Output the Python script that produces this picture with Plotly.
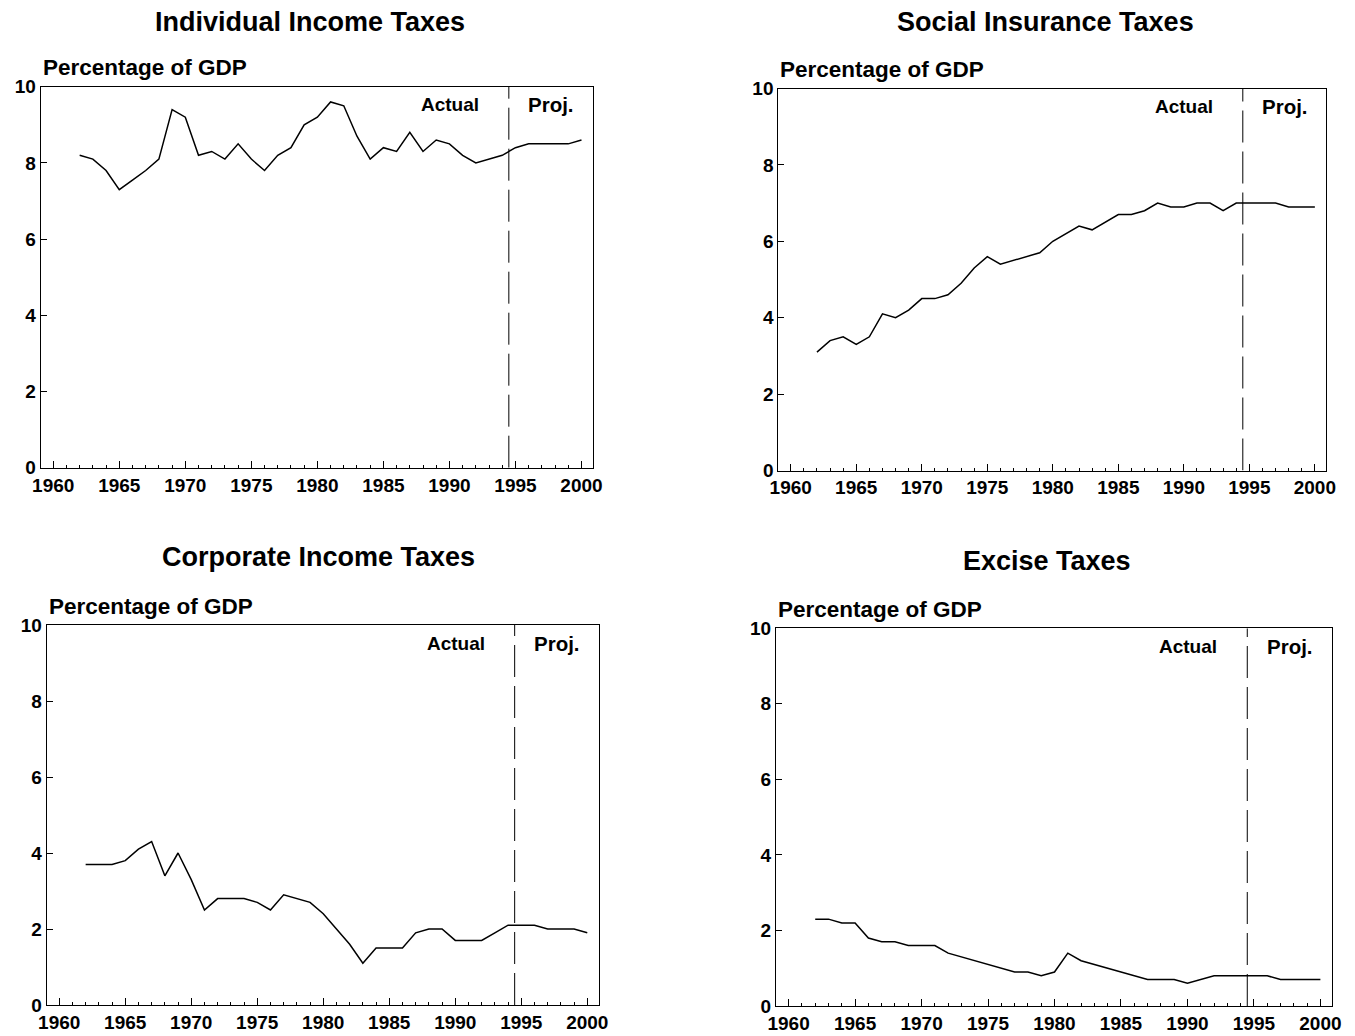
import plotly.graph_objects as go

years = list(range(1962, 2001))

individual = [8.2, 8.1, 7.8, 7.3, 7.55, 7.8, 8.1, 9.4, 9.2, 8.2, 8.3, 8.1, 8.5, 8.1, 7.8,
              8.2, 8.4, 9.0, 9.2, 9.6, 9.5, 8.7, 8.1, 8.4, 8.3, 8.8, 8.3, 8.6, 8.5, 8.2,
              8.0, 8.1, 8.2, 8.4, 8.5, 8.5, 8.5, 8.5, 8.6]
social = [3.1, 3.4, 3.5, 3.3, 3.5, 4.1, 4.0, 4.2, 4.5, 4.5, 4.6, 4.9, 5.3, 5.6, 5.4,
          5.5, 5.6, 5.7, 6.0, 6.2, 6.4, 6.3, 6.5, 6.7, 6.7, 6.8, 7.0, 6.9, 6.9, 7.0,
          7.0, 6.8, 7.0, 7.0, 7.0, 7.0, 6.9, 6.9, 6.9]
corporate = [3.7, 3.7, 3.7, 3.8, 4.1, 4.3, 3.4, 4.0, 3.3, 2.5, 2.8, 2.8, 2.8, 2.7, 2.5,
             2.9, 2.8, 2.7, 2.4, 2.0, 1.6, 1.1, 1.5, 1.5, 1.5, 1.9, 2.0, 2.0, 1.7, 1.7,
             1.7, 1.9, 2.1, 2.1, 2.1, 2.0, 2.0, 2.0, 1.9]
excise = [2.3, 2.3, 2.2, 2.2, 1.8, 1.7, 1.7, 1.6, 1.6, 1.6, 1.4, 1.3, 1.2, 1.1, 1.0,
          0.9, 0.9, 0.8, 0.9, 1.4, 1.2, 1.1, 1.0, 0.9, 0.8, 0.7, 0.7, 0.7, 0.6, 0.7,
          0.8, 0.8, 0.8, 0.8, 0.8, 0.7, 0.7, 0.7, 0.7]

titles = ["Individual Income Taxes", "Social Insurance Taxes",
          "Corporate Income Taxes", "Excise Taxes"]
series = [individual, social, corporate, excise]
projection_start = 1994.5

# the page has an 8px body margin: the figure starts 8px in, and runs to the
# window's right/bottom edge so the bottom tick labels aren't clipped
PAGE_W, PAGE_H, OFF = 1355, 1036, 8
W, H = PAGE_W - OFF, PAGE_H - OFF

# plot boxes in page pixels: left, right, top, bottom
boxes = [
    (40.7, 592.7, 86.7, 467.7),
    (778.3, 1326.0, 88.5, 470.5),
    (46.7, 598.5, 625.0, 1005.0),
    (776.0, 1331.7, 628.3, 1006.0),
]
# title centres in page pixels
title_pos = [(310, 22), (1045, 22), (318, 557), (1047, 561)]


def px_x(x):
    return (x - OFF) / W


def px_y(y):
    return 1 - (y - OFF) / H


FONT = "Liberation Sans, Arial, sans-serif"

fig = go.Figure()
layout = {}
for i, (title, vals, box, tpos) in enumerate(zip(titles, series, boxes, title_pos)):
    n = "" if i == 0 else str(i + 1)
    left, right, top, bottom = box
    fig.add_trace(go.Scatter(
        x=years, y=vals, mode="lines",
        line=dict(color="black", width=1.5),
        xaxis="x" + n, yaxis="y" + n, showlegend=False,
    ))
    layout["xaxis" + n] = dict(
        domain=[px_x(left), px_x(right)], anchor="y" + n, automargin=False,
        range=[1959.05, 2000.85], tickmode="array",
        tickvals=[1960, 1965, 1970, 1975, 1980, 1985, 1990, 1995, 2000],
        ticks="inside", ticklen=7, tickwidth=1, tickcolor="black",
        minor=dict(dtick=1, tick0=1960, ticks="inside", ticklen=3, tickcolor="black"),
        showline=True, linecolor="black", linewidth=1, mirror=True,
        showgrid=False, zeroline=False,
        tickfont=dict(family=FONT, size=19, color="black", weight="bold"),
    )
    layout["yaxis" + n] = dict(
        domain=[px_y(bottom), px_y(top)], anchor="x" + n, automargin=False,
        range=[0, 10], tickvals=[0, 2, 4, 6, 8, 10],
        ticks="inside", ticklen=6, tickwidth=1, tickcolor="black",
        showline=True, linecolor="black", linewidth=1, mirror=True,
        showgrid=False, zeroline=False,
        tickfont=dict(family=FONT, size=19, color="black", weight="bold"),
    )
    xd = "x" + n + " domain"
    yd = "y" + n + " domain"
    fig.add_annotation(text=title, xref="paper", yref="paper",
                       x=px_x(tpos[0]), y=px_y(tpos[1]),
                       showarrow=False, xanchor="center", yanchor="middle",
                       font=dict(family=FONT, size=27, color="black", weight="bold"))
    fig.add_annotation(text="Percentage of GDP", xref=xd, yref=yd, x=0, y=1, yshift=19,
                       xanchor="left", yanchor="middle", showarrow=False,
                       font=dict(family=FONT, size=22.5, color="black", weight="bold"))
    fig.add_annotation(text="Actual", xref="x" + n, yref="y" + n, x=1992.4, y=9.52,
                       xanchor="right", yanchor="middle", showarrow=False,
                       font=dict(family=FONT, size=19, color="black", weight="bold"))
    fig.add_annotation(text="Proj.", xref="x" + n, yref="y" + n, x=1995.8, y=9.52,
                       xanchor="left", yanchor="middle", showarrow=False,
                       font=dict(family=FONT, size=20.5, color="black", weight="bold"))
    fig.add_shape(type="line", xref="x" + n, yref="y" + n,
                  x0=projection_start, x1=projection_start, y0=0, y1=10,
                  line=dict(color="black", width=1, dash="32px,9px"))

fig.update_layout(
    **layout,
    width=W, height=H,
    margin=dict(l=0, r=0, t=0, b=0),
    plot_bgcolor="white", paper_bgcolor="white",
    font=dict(family=FONT, color="black"),
)

fig.write_html("out.html")
